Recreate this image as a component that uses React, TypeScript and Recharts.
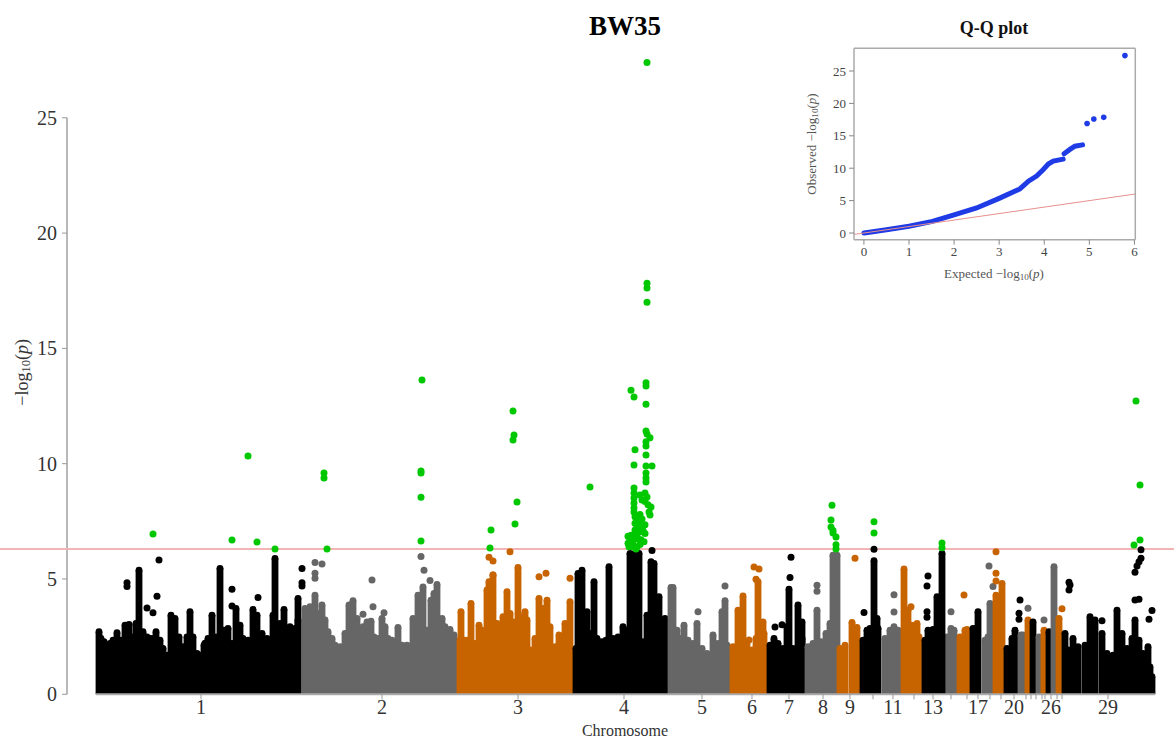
import React from "react";
import { ComposedChart, Bar, Scatter, Line, XAxis, YAxis, ReferenceLine } from "recharts";

const FONT = "'Liberation Serif', 'Times New Roman', serif";
const BLACK = "#000000", GRAY = "#666666", ORANGE = "#c76400", GREEN = "#00c800", BLUE = "#1f3be6";

type P = [number, number];
// Each chromosome: [position, height of the dense envelope]
const chr1: P[] = [[99,2.86],[101,2.57],[104,2.43],[107,2.21],[110,2.36],[113,2.5],[117,2.82],[121,2.5],[125,3.15],[129,3.18],[132,2.64],[136,3.22],[139,5.53],[143,2.86],[147,2.64],[150,2.57],[153,2.57],[156,2.86],[160,2.5],[163,2.14],[167,1.85],[171,3.58],[175,3.44],[179,2.64],[183,2.21],[187,2.64],[190,3.73],[193,2.64],[197,1.92],[200,1.85],[204,2.28],[208,2.57],[212,3.58],[216,2.64],[220,5.61],[224,2.93],[228,3.01],[232,2.36],[236,3.87],[240,3.15],[243,2.57],[248,2.5],[253,3.83],[257,3.58],[262,2.79],[267,2.57],[270,2.5],[273,3.58],[275,6.04],[280,3.22],[284,3.83],[290,3.08],[295,3.01],[298,3.37]];
const chr1b: P[] = [[298,4.31]];
const chr2: P[] = [[305,3.87],[310,3.95],[315,4.45],[318,3.66],[322,4.02],[325,3.37],[328,2.86],[332,2.57],[335,2.28],[340,2.21],[345,2.79],[349,4.02],[353,4.21],[357,3.44],[360,2.36],[363,3.08],[367,3.29],[371,3.32],[374,2.64],[378,2.57],[382,3.44],[385,3.08],[388,2.57],[392,2.5],[398,3.05],[402,2.28],[407,2.28],[413,3.44],[418,4.45],[423,4.81],[427,2.93],[431,4.23],[434,4.52],[437,4.91],[442,3.44],[445,3.08],[450,2.96],[454,2.72]];
const chr3: P[] = [[460,2.5],[461,3.73],[465,2.5],[468,2.5],[471,4.09],[475,2.36],[479,3.15],[482,2.93],[487,4.67],[489,5.03],[493,5.32],[497,3.22],[500,2.57],[503,3.51],[507,4.6],[510,3.66],[513,3.29],[518,5.65],[522,3.51],[525,3.73],[527,3.37],[530,2.07],[535,2.57],[539,4.31],[543,3.87],[547,4.23],[550,3.08],[555,2.21],[559,2.72],[565,3.22],[570,4.16]];
const chr4: P[] = [[576,2.14],[578,5.39],[582,5.53],[587,3.73],[590,2.79],[594,5.03],[597,2.57],[602,2.43],[606,2.5],[609,5.68],[613,2.57],[618,2.64],[623,3.08],[627,2.93],[630,6.26],[635,6.26],[639,6.26],[643,2.43],[647,3.58],[651,5.9],[654,5.82],[659,4.38],[663,2.93],[665,3.44]];
const chr5: P[] = [[671,4.78],[673,4.78],[677,2.93],[680,2.57],[684,3.15],[688,2.5],[693,2.36],[697,3.22],[702,2.14],[707,1.92],[713,2.72],[718,2.36],[722,3.73],[725,4.21],[727,2.28]];
const chr6: P[] = [[733,2.21],[738,3.8],[743,4.41],[747,2.43],[752,2.07],[756,2.57],[758,5.03],[763,3.29],[764,2.79]];
const chr7: P[] = [[770,2.28],[774,2.57],[778,2.36],[783,2.14],[787,3.08],[789,4.71],[793,2.14],[798,4.02],[802,3.29],[802,2.57]];
const chr8: P[] = [[808,2.21],[813,2.36],[817,3.8],[821,2.43],[826,2.79],[830,3.22],[833,6.18],[837,6.18]];
const chr9: P[] = [[840,2.14],[845,2.28],[852,3.27],[855,2.64],[857,3.05]];
const chr10: P[] = [[863,2.5],[867,2.93],[870,3.01],[874,5.94],[877,3.44],[878,3.01]];
const chr11: P[] = [[885,2.57],[890,2.93],[894,3.08],[898,2.93]];
const chr12: P[] = [[904,5.58],[908,3.8],[912,3.15],[917,3.22],[919,2.64]];
const chr13: P[] = [[925,2.5],[928,2.93],[933,2.96],[937,4.38],[942,6.26]];
const chr14: P[] = [[947,2.64],[951,3.01],[954,2.93]];
const chr15: P[] = [[960,2.64],[965,2.93],[967,2.96]];
const chr17: P[] = [[973,3.01],[975,3.01],[978,3.73]];
const chr18: P[] = [[985,2.5],[988,2.64],[990,4.09]];
const chr19: P[] = [[996,4.45],[999,4.31],[1002,4.96]];
const chr20: P[] = [[1007,2.14],[1012,2.57],[1015,2.93]];
const chr21: P[] = [[1021,2.72],[1023,2.72]];
const chr22: P[] = [[1028,3.37]];
const chr23: P[] = [[1033,3.29]];
const chr24: P[] = [[1039,2.64]];
const chr25: P[] = [[1044,2.93]];
const chr26: P[] = [[1049,2.86]];
const chr27: P[] = [[1054,5.68]];
const chr28: P[] = [[1059,3.44]];
const chr29: P[] = [[1065,2.79],[1068,2.07],[1073,2.57],[1078,2.21],[1085,2.28],[1090,3.51],[1095,3.37],[1102,2.79],[1107,1.92],[1113,1.85],[1117,3.8],[1122,2.79],[1127,2.14],[1132,2.57],[1135,3.37],[1139,2.5],[1143,1.92],[1148,2.21],[1150,1.34],[1152,0.91]];

const envelope: [P[], string][] = [
  [chr1, BLACK],[chr1b, BLACK],[chr2, GRAY],[chr3, ORANGE],[chr4, BLACK],[chr5, GRAY],[chr6, ORANGE],[chr7, BLACK],[chr8, GRAY],[chr9, ORANGE],[chr10, BLACK],[chr11, GRAY],[chr12, ORANGE],[chr14, GRAY],[chr13, BLACK],[chr15, ORANGE],[chr17, BLACK],[chr18, GRAY],[chr19, ORANGE],[chr20, BLACK],[chr21, GRAY],[chr22, ORANGE],[chr23, BLACK],[chr24, GRAY],[chr25, ORANGE],[chr26, BLACK],[chr27, GRAY],[chr28, ORANGE],[chr29, BLACK],
];

// Individually visible SNPs
const blackDots: P[] = [[159,5.82],[157,4.25],[127,4.84],[127,4.67],[147,3.74],[153,3.54],[232,4.55],[232,3.83],[205,2.21],[258,4.2],[302,5.46],[302,4.84],[302,4.7],[652,6.24],[791,5.94],[790,5.07],[775,2.92],[782,3.02],[864,3.55],[874,6.29],[928,5.13],[927,4.7],[927,3.58],[927,3.34],[1069,4.86],[1070,4.74],[1069,4.52],[1135,5.29],[1137,5.56],[1139,5.75],[1141,5.9],[1141,6.27],[1135,4.09],[1139,4.12],[1152,3.63],[1149,3.25],[1020,4.09],[1019,3.51],[1019,3.25],[1102,3.19]];
const grayDots: P[] = [[315,5.71],[322,5.65],[315,5.25],[315,5.03],[421,5.98],[424,5.38],[430,4.93],[372,4.96],[373,3.8],[384,3.54],[363,3.47],[725,4.7],[698,3.58],[817,4.73],[817,4.47],[894,4.32],[894,3.57],[989,5.56],[993,4.67],[951,3.58],[1028,3.73],[1044,3.22]];
const orangeDots: P[] = [[489,5.94],[493,5.78],[510,6.18],[539,5.1],[546,5.25],[570,5.03],[493,5.17],[754,5.52],[759,5.43],[855,5.9],[749,2.36],[756,4.99],[996,6.18],[996,5.25],[996,4.91],[964,4.31],[1062,3.71],[911,3.8]];
const greenDots: P[] = [[153,6.95],[232,6.69],[248,10.33],[257,6.6],[275,6.3],[324,9.6],[324,9.38],[327,6.3],[422,13.63],[421,9.68],[421,9.6],[421,8.55],[421,6.65],[491,7.12],[490,6.34],[513,12.29],[514,11.24],[513,11.03],[517,8.34],[515,7.38],[590,8.99],
  [647,27.4],[647,17.83],[647,17.62],[647,17.0],[646,13.51],[646,13.37],[631,13.19],[634,12.89],[646,12.58],[646,11.42],[647,11.29],[650,11.12],[646,10.95],[646,10.77],[635,10.6],[646,10.38],[634,9.94],[646,9.9],[652,9.9],[646,9.6],[646,9.38],[646,9.21],
  [634,8.95],[634,8.73],[634,8.51],[634,8.3],[634,8.08],[645,8.73],[647,8.56],[640,8.64],[642,8.43],[645,8.36],[648,8.22],[651,8.12],[649,7.9],[650,7.78],[635,7.7],[640,7.8],[635,7.42],[640,7.42],[645,7.35],[635,7.12],[640,7.19],[645,6.97],[637,6.91],[644,6.62],[630,6.69],[633,6.62],[628,6.55],[632,6.4],[637,6.4],[629,6.4],
  [628,6.85],[631,6.9],[635,6.85],[638,6.75],[641,6.7],[636,6.3],[640,6.5],[643,7.1],[637,7.3],[640,7.05],[634,7.9],[637,7.55],[642,7.6],
  [832,8.2],[831,7.56],[831,7.25],[833,7.0],[836,6.82],[836,6.48],[836,6.3],[833,7.1],[874,7.48],[874,7.0],[942,6.56],[942,6.35],[1136,12.72],[1140,9.08],[1140,6.69],[1134,6.47]];

const threshold = 6.3;
const yTicks = [0, 5, 10, 15, 20, 25];
const tickPositions = [201,382,518,624,702,752,789,823,850,873,893,914,933,951,967,978,990,1001,1014,1026,1031,1036,1042,1045,1051,1057,1062,1108];
const tickNames = ["1","2","3","4","5","6","7","8","9","","11","","13","","","17","","","20","","","","","","26","","","29"];

// Q-Q panel
const qqCurveX = [0,0.2,0.5,1,1.52,2,2.5,3,3.46,3.65,3.83,3.98,4.09,4.2,4.42];
const qqCurveY = [0,0.2,0.5,1.05,1.8,2.8,3.86,5.35,6.8,8.0,8.8,9.8,10.65,11.1,11.4];
const qqUpperX = [4.44,4.57,4.68,4.85];
const qqUpperY = [12.24,12.9,13.4,13.6];
const qqOutliers: P[] = [[4.95,16.9],[5.1,17.6],[5.32,17.85],[5.79,27.37]];
const qqXTicks = [0,1,2,3,4,5,6];
const qqYTicks = [0,5,10,15,20,25];

const bars = envelope.flatMap(([pts, color]) => pts.map(([x, y]) => ({ x, y, color })));
const asRows = (pts: P[]) => pts.map(([x, y]) => ({ x, y }));
const qqLower = qqCurveX.map((x, i) => ({ x, y: qqCurveY[i] }));
const qqUpper = qqUpperX.map((x, i) => ({ x, y: qqUpperY[i] }));

const dot = (r: number, fill: string) => (p: any) => <circle cx={p.cx} cy={p.cy} r={r} fill={fill} />;

// A column of overlapping SNP dots: round top, solid down to the baseline.
const COLUMN_R = 3.4;
const Column = (p: any) => {
  const cx = p.x + p.width / 2;
  const fill = p.payload?.color ?? p.color;
  return (
    <g>
      <rect x={cx - COLUMN_R} y={p.y + COLUMN_R} width={COLUMN_R * 2} height={Math.max(0, p.height - COLUMN_R)} fill={fill} />
      <circle cx={cx} cy={p.y + COLUMN_R} r={COLUMN_R} fill={fill} />
    </g>
  );
};

const Log10P = () => (
  <>
    −log<span style={{ fontSize: "0.7em", verticalAlign: "-0.2em" }}>10</span>(<i>p</i>)
  </>
);

const abs = (s: React.CSSProperties): React.CSSProperties => ({ position: "absolute", fontFamily: FONT, whiteSpace: "nowrap", ...s });

export default function App() {
  return (
    <div style={{ position: "absolute", left: 0, top: 0, width: 1174, height: 738, background: "#fff", overflow: "hidden" }}>
      <ComposedChart width={1174} height={738} data={bars} margin={{ top: 48.6, right: 0, bottom: 0, left: 0 }} barCategoryGap={0}>
        <XAxis dataKey="x" type="number" domain={[67, 1174]} ticks={tickPositions} interval={0} height={43.7} axisLine={false} tickSize={5} tickMargin={0}
          tickLine={{ stroke: "#999", strokeWidth: 1 }} tick={{ fontFamily: FONT, fontSize: 20, fill: "#333" }}
          tickFormatter={(v: number) => tickNames[tickPositions.indexOf(v)] ?? ""} />
        <YAxis dataKey="y" type="number" domain={[0, 28]} ticks={yTicks} interval={0} width={67} axisLine={false} tickSize={5} tickMargin={5}
          tickLine={{ stroke: "#999", strokeWidth: 1 }} tick={{ fontFamily: FONT, fontSize: 20, fill: "#333" }} />
        <ReferenceLine segment={[{ x: 67, y: 0 }, { x: 67, y: 25 }]} stroke="#b8b8b8" strokeWidth={2} ifOverflow="visible" />
        <ReferenceLine segment={[{ x: 96, y: 0 }, { x: 1155, y: 0 }]} stroke="#aaaaaa" strokeWidth={2} ifOverflow="visible" />
        <Bar dataKey="y" shape={Column} isAnimationActive={false} />
        <Scatter data={asRows(grayDots)} shape={dot(3.5, GRAY)} isAnimationActive={false} />
        <Scatter data={asRows(orangeDots)} shape={dot(3.5, ORANGE)} isAnimationActive={false} />
        <Scatter data={asRows(blackDots)} shape={dot(3.5, BLACK)} isAnimationActive={false} />
        <Scatter data={asRows(greenDots)} shape={dot(3.5, GREEN)} isAnimationActive={false} />
        <ReferenceLine segment={[{ x: 0, y: threshold }, { x: 1174, y: threshold }]} stroke="#f2b4b4" strokeWidth={2} ifOverflow="visible" />
      </ComposedChart>

      <div style={abs({ left: 525, width: 200, top: 11, textAlign: "center", fontSize: 27, fontWeight: "bold", color: "#000" })}>BW35</div>
      <div style={abs({ left: 525, width: 200, top: 722, textAlign: "center", fontSize: 16, color: "#333" })}>Chromosome</div>
      <div style={abs({ left: -27, width: 100, top: 361, textAlign: "center", fontSize: 18, color: "#333", transform: "rotate(-90deg)" })}><Log10P /></div>

      <div style={{ position: "absolute", left: 810, top: 40, width: 364, height: 240 }}>
        <ComposedChart width={364} height={240} margin={{ top: 8.3, right: 38.7, bottom: 0, left: 0 }}>
          <XAxis dataKey="x" type="number" domain={[-0.22, 6.02]} ticks={qqXTicks} interval={0} height={0.3 + 40} axisLine={false} tickSize={5} tickMargin={2} allowDuplicatedCategory={false}
            tickLine={{ stroke: "#888" }} tick={{ fontFamily: FONT, fontSize: 13, fill: "#444" }} />
          <YAxis dataKey="y" type="number" domain={[-1.03, 28.5]} ticks={qqYTicks} interval={0} width={44} axisLine={false} tickSize={5} tickMargin={3}
            tickLine={{ stroke: "#888" }} tick={{ fontFamily: FONT, fontSize: 13, fill: "#444" }} />
          <Line data={qqLower} dataKey="y" stroke={BLUE} strokeWidth={5} dot={false} strokeLinecap="round" isAnimationActive={false} />
          <Line data={qqUpper} dataKey="y" stroke={BLUE} strokeWidth={5} dot={false} strokeLinecap="round" isAnimationActive={false} />
          <Scatter data={asRows(qqOutliers)} shape={dot(2.8, BLUE)} isAnimationActive={false} />
          <ReferenceLine segment={[{ x: -0.22, y: -0.22 }, { x: 6.02, y: 6.02 }]} stroke="#e88f8f" strokeWidth={1} />
          <ReferenceLine segment={[{ x: -0.22, y: -1.03 }, { x: 6.02, y: -1.03 }]} stroke="#aaa" strokeWidth={1.5} />
          <ReferenceLine segment={[{ x: -0.22, y: 28.5 }, { x: 6.02, y: 28.5 }]} stroke="#aaa" strokeWidth={1.5} />
          <ReferenceLine segment={[{ x: -0.22, y: -1.03 }, { x: -0.22, y: 28.5 }]} stroke="#aaa" strokeWidth={1.5} />
          <ReferenceLine segment={[{ x: 6.02, y: -1.03 }, { x: 6.02, y: 28.5 }]} stroke="#aaa" strokeWidth={1.5} />
        </ComposedChart>
      </div>
      <div style={abs({ left: 894, width: 200, top: 18, textAlign: "center", fontSize: 18, fontWeight: "bold", color: "#111" })}>Q-Q plot</div>
      <div style={abs({ left: 894, width: 200, top: 266, textAlign: "center", fontSize: 13, color: "#555" })}>Expected  <Log10P /></div>
      <div style={abs({ left: 752, width: 120, top: 136, textAlign: "center", fontSize: 13, color: "#555", transform: "rotate(-90deg)" })}>Observed  <Log10P /></div>
    </div>
  );
}
